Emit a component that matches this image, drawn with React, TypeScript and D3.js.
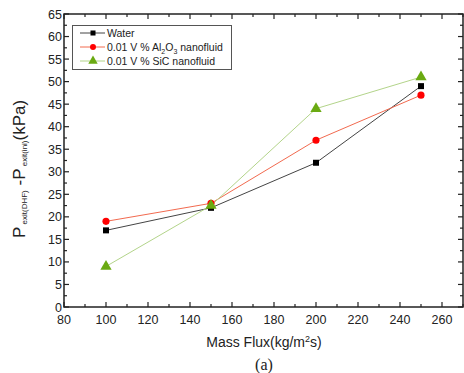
import React, { useEffect, useRef } from 'react';
import * as d3 from 'd3';

const massFlux = [100, 150, 200, 250];
const water = [17, 22, 32, 49];
const al2o3 = [19, 23, 37, 47];
const sic = [9, 22.5, 44, 51];
const xTicks = [80, 100, 120, 140, 160, 180, 200, 220, 240, 260];
const yTicks = [0, 5, 10, 15, 20, 25, 30, 35, 40, 45, 50, 55, 60, 65];

const W = 464;
const H = 373;

export default function App() {
  const ref = useRef<SVGSVGElement>(null);

  useEffect(() => {
    const svg = d3.select(ref.current);
    svg.selectAll('*').remove();

    const left = 64, right = 463, top = 14, bottom = 307;
    const x = d3.scaleLinear().domain([80, 270]).range([left, right]);
    const y = d3.scaleLinear().domain([0, 65]).range([bottom, top]);
    const font = 'Liberation Sans, Arial, sans-serif';

    // ticks (inward, on all four sides)
    const g = svg.append('g').attr('stroke', '#222').attr('stroke-width', 1.2);
    const xMinor = d3.range(90, 271, 20);
    const yMinor = d3.range(2.5, 65, 5);
    xTicks.forEach(v => {
      g.append('line').attr('x1', x(v)).attr('x2', x(v)).attr('y1', bottom).attr('y2', bottom - 5);
      g.append('line').attr('x1', x(v)).attr('x2', x(v)).attr('y1', top).attr('y2', top + 5);
    });
    xMinor.forEach(v => {
      g.append('line').attr('x1', x(v)).attr('x2', x(v)).attr('y1', bottom).attr('y2', bottom - 3);
      g.append('line').attr('x1', x(v)).attr('x2', x(v)).attr('y1', top).attr('y2', top + 3);
    });
    yTicks.forEach(v => {
      g.append('line').attr('x1', left).attr('x2', left + 5).attr('y1', y(v)).attr('y2', y(v));
      g.append('line').attr('x1', right).attr('x2', right - 5).attr('y1', y(v)).attr('y2', y(v));
    });
    yMinor.forEach(v => {
      g.append('line').attr('x1', left).attr('x2', left + 3).attr('y1', y(v)).attr('y2', y(v));
      g.append('line').attr('x1', right).attr('x2', right - 3).attr('y1', y(v)).attr('y2', y(v));
    });

    svg.append('rect')
      .attr('x', left).attr('y', top)
      .attr('width', right - left).attr('height', bottom - top)
      .attr('fill', 'none').attr('stroke', '#222').attr('stroke-width', 1.5);

    // tick labels
    svg.append('g').selectAll('text').data(xTicks).enter().append('text')
      .attr('x', d => x(d)).attr('y', bottom + 17)
      .attr('text-anchor', 'middle')
      .style('font-family', font).style('font-size', '12.5px').style('fill', '#222')
      .text(d => d);
    svg.append('g').selectAll('text').data(yTicks).enter().append('text')
      .attr('x', left - 2).attr('y', d => y(d) + 4.5)
      .attr('text-anchor', 'end')
      .style('font-family', font).style('font-size', '12.5px').style('fill', '#222')
      .text(d => d);

    // series
    const series = [
      { name: 'water', values: water, line: '#444', fill: '#000', shape: d3.symbolSquare, size: 36 },
      { name: 'al2o3', values: al2o3, line: '#f26a4f', fill: '#ff0000', shape: d3.symbolCircle, size: 40 },
      { name: 'sic', values: sic, line: '#b3d48a', fill: '#6aaa12', shape: d3.symbolTriangle, size: 55 },
    ];
    const line = d3.line<number>().x((_, i) => x(massFlux[i])).y(d => y(d));
    series.forEach(s => {
      svg.append('path').datum(s.values)
        .attr('d', line).attr('fill', 'none')
        .attr('stroke', s.line).attr('stroke-width', 1);
    });
    series.forEach(s => {
      svg.append('g').selectAll('path').data(s.values).enter().append('path')
        .attr('d', d3.symbol().type(s.shape).size(s.size)())
        .attr('transform', (d, i) => `translate(${x(massFlux[i])},${y(d)})`)
        .attr('fill', s.fill);
    });

    // legend
    const lg = svg.append('g');
    lg.append('rect').attr('x', 72.5).attr('y', 25.5).attr('width', 159).attr('height', 44)
      .attr('fill', '#fff').attr('stroke', '#555').attr('stroke-width', 1);
    const labels = [
      ['Water'],
      ['0.01 V % Al', '2', 'O', '3', ' nanofluid'],
      ['0.01 V % SiC nanofluid'],
    ];
    series.forEach((s, i) => {
      const ly = 33 + i * 14;
      lg.append('line').attr('x1', 80).attr('x2', 105).attr('y1', ly).attr('y2', ly)
        .attr('stroke', s.line).attr('stroke-width', 1);
      lg.append('path').attr('d', d3.symbol().type(s.shape).size(s.size * 0.7)())
        .attr('transform', `translate(93,${ly})`).attr('fill', s.fill);
      const t = lg.append('text').attr('x', 107).attr('y', ly + 4)
        .style('font-family', font).style('font-size', '10.5px').style('fill', '#222');
      labels[i].forEach((part, j) => {
        const isSub = labels[i].length > 1 && (j === 1 || j === 3);
        const ts = t.append('tspan').text(part);
        if (isSub) ts.attr('dy', 2.5).style('font-size', '7px');
        else if (j > 0) ts.attr('dy', -2.5);
      });
    });

    // axis titles
    svg.append('text').attr('x', 264).attr('y', 347)
      .attr('text-anchor', 'middle')
      .style('font-family', font).style('font-size', '14px').style('fill', '#222')
      .text('Mass Flux(kg/m')
      .append('tspan').attr('dy', -5).style('font-size', '9px').text('2')
      .select(function () { return this.parentNode as any; })
      .append('tspan').attr('dy', 5).text('s)');

    const yl = svg.append('text')
      .attr('transform', 'translate(25,238) rotate(-90)')
      .attr('text-anchor', 'start')
      .style('font-family', font).style('font-size', '17px').style('fill', '#222');
    yl.append('tspan').text('P');
    yl.append('tspan').attr('dy', 2).style('font-size', '8px').text(' exit(DHF)');
    yl.append('tspan').attr('dy', -2).text(' -P');
    yl.append('tspan').attr('dy', 2).style('font-size', '8px').text(' exit(ini)');
    yl.append('tspan').attr('dy', -2).text('(kPa)');

    svg.append('text').attr('x', 264).attr('y', 370)
      .attr('text-anchor', 'middle')
      .style('font-family', 'Liberation Serif, Times New Roman, serif').style('font-size', '16px').style('fill', '#222')
      .text('(a)');
  }, []);

  return (
    <svg ref={ref} width={W} height={H}
      style={{ position: 'absolute', left: 0, top: 0, background: '#fff' }} />
  );
}
